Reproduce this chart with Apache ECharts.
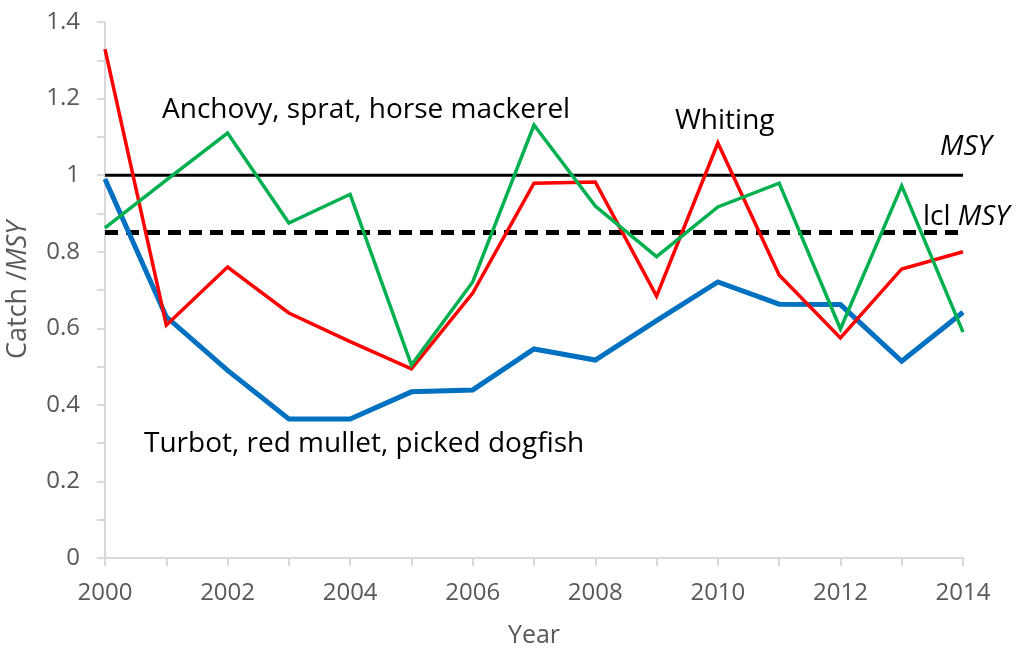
<!DOCTYPE html>
<html>
<head>
<meta charset="utf-8">
<script src="https://cdn.jsdelivr.net/npm/echarts@6/dist/echarts.min.js"></script>
<style>
  html, body { margin: 0; padding: 0; background: #ffffff; }
  #chart { width: 1018px; height: 649px; }
</style>
</head>
<body>
<div id="chart"></div>
<script>
// Catch relative to MSY, by species group
const years = ['2000','2001','2002','2003','2004','2005','2006','2007','2008','2009','2010','2011','2012','2013','2014'];
const turbotGroup  = [0.99, 0.63, 0.49, 0.363, 0.363, 0.434, 0.439, 0.546, 0.517, 0.62, 0.721, 0.663, 0.662, 0.514, 0.642];
const whiting      = [1.329, 0.608, 0.76, 0.64, 0.565, 0.494, 0.692, 0.979, 0.982, 0.684, 1.084, 0.739, 0.575, 0.755, 0.80];
const anchovyGroup = [0.862, 0.987, 1.11, 0.875, 0.95, 0.504, 0.721, 1.131, 0.919, 0.787, 0.917, 0.979, 0.598, 0.972, 0.59];
const msyLevel = 1.0;
const lclMsyLevel = 0.85;

const FONT = '"Open Sans", "Noto Sans", sans-serif';
const AXIS_GREY = '#d9d9d9';
const LABEL_GREY = '#595959';

const chart = echarts.init(document.getElementById('chart'), null, { renderer: 'canvas' });

function line(name, data, color, width) {
  return {
    name, type: 'line', data,
    symbol: 'none', smooth: false,
    lineStyle: { color, width, join: 'miter', cap: 'butt' },
    z: 3
  };
}

function note(text, x, y, italic) {
  return {
    type: 'text', x, y,
    style: {
      text, fill: '#000000', verticalAlign: 'middle',
      font: (italic ? 'italic ' : '') + '28px ' + FONT
    }
  };
}

const option = {
  animation: false,
  backgroundColor: '#ffffff',
  grid: { left: 105, right: 55, top: 22, bottom: 91, containLabel: false, outerBoundsMode: 'none' },
  xAxis: {
    type: 'category',
    data: years,
    boundaryGap: false,
    name: 'Year',
    nameLocation: 'middle',
    nameGap: 65,
    nameTextStyle: { color: LABEL_GREY, fontSize: 25, fontFamily: FONT },
    axisLine: { lineStyle: { color: AXIS_GREY, width: 2 } },
    axisTick: { show: true, interval: 0, length: 8, lineStyle: { color: AXIS_GREY, width: 2 } },
    axisLabel: { interval: 1, color: LABEL_GREY, fontSize: 24, fontFamily: FONT, margin: 23 },
    splitLine: { show: false }
  },
  yAxis: {
    type: 'value',
    min: 0, max: 1.4, interval: 0.2,
    name: '{n|Catch /}{i|MSY}',
    nameLocation: 'middle',
    nameGap: 73,
    nameRotate: 90,
    nameTextStyle: {
      rich: {
        n: { color: LABEL_GREY, fontSize: 27, fontFamily: FONT },
        i: { color: LABEL_GREY, fontSize: 27, fontFamily: FONT, fontStyle: 'italic' }
      }
    },
    axisLine: { show: true, lineStyle: { color: AXIS_GREY, width: 2 } },
    axisTick: { show: true, length: 8, lineStyle: { color: AXIS_GREY, width: 2 } },
    minorTick: { show: true, splitNumber: 2, length: 8, lineStyle: { color: AXIS_GREY, width: 2 } },
    axisLabel: { color: LABEL_GREY, fontSize: 24, fontFamily: FONT, margin: 25 },
    splitLine: { show: false }
  },
  series: [
    {
      name: 'MSY', type: 'line', data: years.map(() => msyLevel),
      symbol: 'none', lineStyle: { color: '#000000', width: 3 }, z: 2
    },
    {
      name: 'lcl MSY', type: 'line', data: years.map(() => lclMsyLevel),
      symbol: 'none', lineStyle: { color: '#000000', width: 5, type: [13, 8] }, z: 2
    },
    line('Turbot, red mullet, picked dogfish', turbotGroup, '#0070c0', 5),
    line('Whiting', whiting, '#ff0000', 3.5),
    line('Anchovy, sprat, horse mackerel', anchovyGroup, '#00b050', 3.5)
  ],
  graphic: [
    note('Anchovy, sprat, horse mackerel', 162, 110),
    note('Whiting', 675, 121),
    note('MSY', 940, 147, true),
    {
      type: 'text', x: 923, y: 217,
      style: {
        text: '{n|lcl }{i|MSY}', verticalAlign: 'middle',
        rich: {
          n: { fill: '#000000', fontSize: 28, fontFamily: FONT },
          i: { fill: '#000000', fontSize: 28, fontFamily: FONT, fontStyle: 'italic' }
        }
      }
    },
    note('Turbot, red mullet, picked dogfish', 144, 444)
  ]
};

chart.setOption(option);
</script>
</body>
</html>
